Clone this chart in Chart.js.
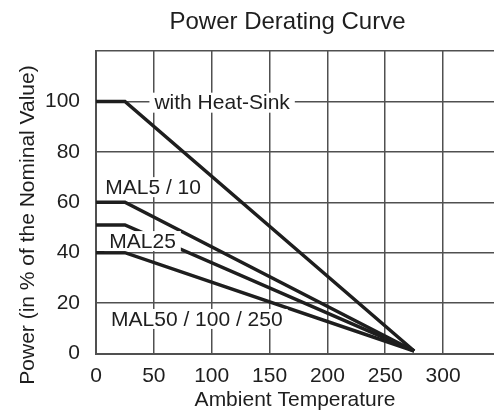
<!DOCTYPE html>
<html>
<head>
<meta charset="utf-8">
<script src="https://cdn.jsdelivr.net/npm/chart.js@4/dist/chart.umd.min.js"></script>
<style>
  html, body { margin: 0; padding: 0; background: #fff; overflow: hidden; }
  canvas { display: block; }
</style>
</head>
<body>
<canvas id="chart" width="494" height="410"></canvas>
<script>
// ambient temperature breakpoints
const temps = [0, 25, 275];
// power in % of nominal value
const heatSink = [100, 100, 1];
const mal5_10 = [60, 60, 1];
const mal25 = [51, 51, 1];
const mal50 = [40, 40, 1];
const xTicks = [0, 50, 100, 150, 200, 250, 300];
const yTicks = [0, 20, 40, 60, 80, 100];

const FONT = "'Liberation Sans', Arial, sans-serif";
const INK = "#1e1e1e";
const GRID = "#505050";

// curve labels, anchored in data units (left edge, vertical middle)
const curveLabels = [
  { text: "with Heat-Sink", x: 50.5, y: 99.5 },
  { text: "MAL5 / 10", x: 8, y: 66 },
  { text: "MAL25", x: 11.5, y: 44.6 },
  { text: "MAL50 / 100 / 250", x: 13, y: 13.7 }
];

const toPoints = (ys) => ys.map((y, i) => ({ x: temps[i], y }));

const lineSet = (label, ys) => ({
  label,
  data: toPoints(ys),
  borderColor: INK,
  borderWidth: 3.5,
  borderJoinStyle: "miter",
  pointRadius: 0,
  tension: 0,
  fill: false
});

const labelsPlugin = {
  id: "curveLabels",
  afterDatasetsDraw(chart) {
    const { ctx, scales } = chart;
    ctx.save();
    ctx.font = `21px ${FONT}`;
    ctx.textBaseline = "middle";
    ctx.textAlign = "left";
    curveLabels.forEach((l) => {
      const px = scales.x.getPixelForValue(l.x);
      const py = scales.y.getPixelForValue(l.y);
      const w = ctx.measureText(l.text).width;
      ctx.fillStyle = "#fff";
      ctx.fillRect(px - 5, py - 10, w + 10, 20);
      ctx.fillStyle = INK;
      ctx.fillText(l.text, px, py + 1);
    });
    ctx.restore();
  },
  afterDraw(chart) {
    const { ctx, chartArea } = chart;
    ctx.save();
    ctx.fillStyle = INK;
    ctx.textAlign = "center";
    ctx.textBaseline = "middle";
    // chart title, centred a little left of the plot centre
    ctx.font = `24px ${FONT}`;
    ctx.fillText("Power Derating Curve", 287.5, 22);
    ctx.font = `21px ${FONT}`;
    // x axis title
    ctx.fillText("Ambient Temperature", (chartArea.left + chartArea.right) / 2, 400);
    // y axis title
    ctx.translate(28, 225);
    ctx.rotate(-Math.PI / 2);
    ctx.fillText("Power (in % of the Nominal Value)", 0, 0);
    ctx.restore();
  }
};

new Chart(document.getElementById("chart"), {
  type: "line",
  data: {
    datasets: [
      lineSet("with Heat-Sink", heatSink),
      lineSet("MAL5 / 10", mal5_10),
      lineSet("MAL25", mal25),
      lineSet("MAL50 / 100 / 250", mal50)
    ]
  },
  options: {
    responsive: false,
    animation: false,
    devicePixelRatio: 1,
    layout: { padding: { top: 51 } },
    plugins: {
      legend: { display: false },
      tooltip: { enabled: false },
      title: { display: false }
    },
    scales: {
      x: {
        type: "linear",
        min: 0,
        max: 344,
        afterBuildTicks: (s) => { s.ticks = xTicks.map((v) => ({ value: v })); },
        afterFit: (s) => { s.height = 56.5; },
        grid: { color: GRID, lineWidth: 1.5, drawTicks: false },
        border: { color: GRID, width: 2 },
        ticks: {
          color: INK,
          padding: 10,
          maxRotation: 0,
          font: { family: FONT, size: 21 }
        }
      },
      y: {
        type: "linear",
        min: 0,
        max: 120,
        afterBuildTicks: (s) => { s.ticks = yTicks.concat([120]).map((v) => ({ value: v })); },
        afterFit: (s) => { s.width = 96; },
        grid: { color: GRID, lineWidth: 1.5, drawTicks: false },
        border: { color: GRID, width: 2 },
        ticks: {
          color: INK,
          padding: 16,
          font: { family: FONT, size: 21 },
          callback: (v) => (yTicks.includes(v) ? v : "")
        }
      }
    }
  },
  plugins: [labelsPlugin]
});
</script>
</body>
</html>
